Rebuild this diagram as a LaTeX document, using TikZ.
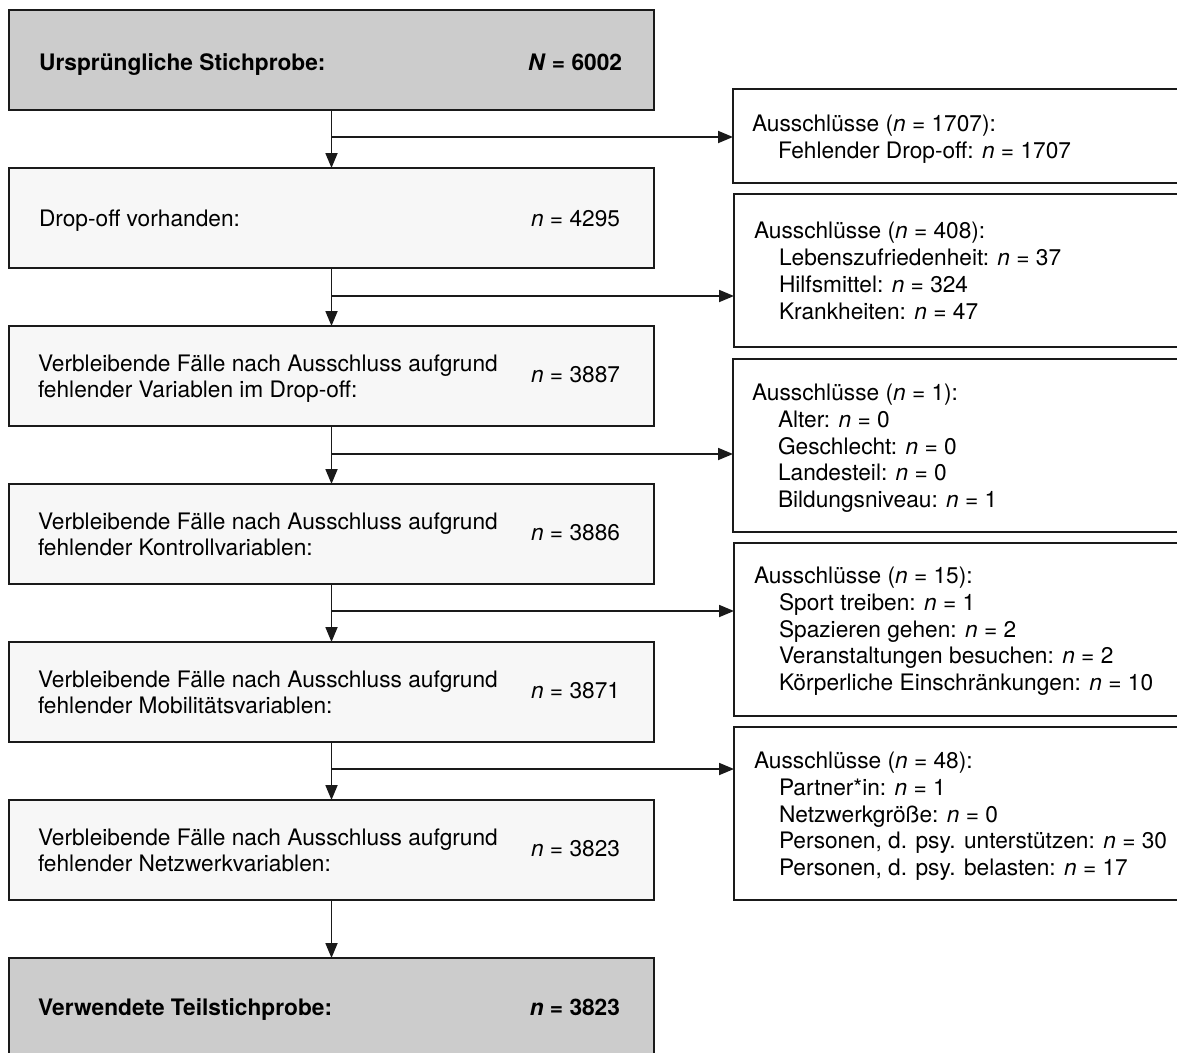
\documentclass[tikz,border=0pt]{standalone}
\usepackage{fontspec}
\setmainfont{TeX Gyre Heros}
\usetikzlibrary{arrows.meta}
\definecolor{boxgray}{HTML}{CCCCCC}
\definecolor{boxlight}{HTML}{F7F7F7}
\definecolor{lineblack}{HTML}{1A1A1A}
\begin{document}
\begin{tikzpicture}[x=1pt,y=-1pt,
  every node/.style={font=\fontsize{22.7}{27}\selectfont, inner sep=0pt, outer sep=0pt, text=black},
  mainbox/.style={draw=lineblack, line width=1.8pt, fill=boxlight, minimum width=645pt, minimum height=100pt, anchor=north west},
  endbox/.style={mainbox, fill=boxgray},
  sidebox/.style={draw=lineblack, line width=1.8pt, fill=white, minimum width=460pt, anchor=north west},
  txt/.style={anchor=base west},
  num/.style={anchor=base east},
  arr/.style={draw=lineblack, line width=1.8pt, -{Triangle[length=15pt,width=12pt]}},
]
\useasboundingbox (0,0) rectangle (1177,1052);
\clip (0,0) rectangle (1177,1052);

% main column boxes
\node[endbox]  (b1) at (9,10) {};
\node[mainbox] (b2) at (9,168) {};
\node[mainbox] (b3) at (9,326) {};
\node[mainbox] (b4) at (9,484) {};
\node[mainbox] (b5) at (9,642) {};
\node[mainbox] (b6) at (9,800) {};
\node[endbox, minimum height=120pt] (b7) at (9,958) {};

% main column texts
\node[txt] (t1) at (39,70) {\textbf{Ursprüngliche Stichprobe:}};
\node[num] (n1) at (622,70) {\textbf{\textit{N} = 6002}};
\node[txt] (t2) at (39,226) {Drop-off vorhanden:};
\node[num] (n2) at (620,226) {\textit{n} = 4295};
\node[txt] (t3a) at (38,371) {Verbleibende Fälle nach Ausschluss aufgrund};
\node[txt] (t3b) at (38,397) {fehlender Variablen im Drop-off:};
\node[num] (n3) at (620,382) {\textit{n} = 3887};
\node[txt] (t4a) at (38,529) {Verbleibende Fälle nach Ausschluss aufgrund};
\node[txt] (t4b) at (38,555) {fehlender Kontrollvariablen:};
\node[num] (n4) at (620,540) {\textit{n} = 3886};
\node[txt] (t5a) at (38,687) {Verbleibende Fälle nach Ausschluss aufgrund};
\node[txt] (t5b) at (38,713) {fehlender Mobilitätsvariablen:};
\node[num] (n5) at (620,698) {\textit{n} = 3871};
\node[txt] (t6a) at (38,845) {Verbleibende Fälle nach Ausschluss aufgrund};
\node[txt] (t6b) at (38,871) {fehlender Netzwerkvariablen:};
\node[num] (n6) at (620,856) {\textit{n} = 3823};
\node[txt] (t7) at (38,1015) {\textbf{Verwendete Teilstichprobe:}};
\node[num] (n7) at (620,1015) {\textbf{\textit{n} = 3823}};

% side boxes
\node[sidebox, minimum height=94pt]  (a1) at (733,89) {};
\node[sidebox, minimum height=153pt] (a2) at (734,194) {};
\node[sidebox, minimum height=173pt] (a3) at (733,359) {};
\node[sidebox, minimum height=173pt] (a4) at (734,543) {};
\node[sidebox, minimum height=173pt] (a5) at (734,727) {};

% side texts
\node[txt] (s1h) at (752,131) {Ausschlüsse (\textit{n} = 1707):};
\node[txt] (s1a) at (778,158) {Fehlender Drop-off: \textit{n} = 1707};

\node[txt] (s2h) at (754,238) {Ausschlüsse (\textit{n} = 408):};
\node[txt] (s2a) at (779,265) {Lebenszufriedenheit: \textit{n} = 37};
\node[txt] (s2b) at (779,292) {Hilfsmittel: \textit{n} = 324};
\node[txt] (s2c) at (779,319) {Krankheiten: \textit{n} = 47};

\node[txt] (s3h) at (752,400) {Ausschlüsse (\textit{n} = 1):};
\node[txt] (s3a) at (778,427) {Alter: \textit{n} = 0};
\node[txt] (s3b) at (778,454) {Geschlecht: \textit{n} = 0};
\node[txt] (s3c) at (778,480) {Landesteil: \textit{n} = 0};
\node[txt] (s3d) at (778,507) {Bildungsniveau: \textit{n} = 1};

\node[txt] (s4h) at (754,583) {Ausschlüsse (\textit{n} = 15):};
\node[txt] (s4a) at (779,610) {Sport treiben: \textit{n} = 1};
\node[txt] (s4b) at (779,637) {Spazieren gehen: \textit{n} = 2};
\node[txt] (s4c) at (779,663) {Veranstaltungen besuchen: \textit{n} = 2};
\node[txt] (s4d) at (779,690) {Körperliche Einschränkungen: \textit{n} = 10};

\node[txt] (s5h) at (754,768) {Ausschlüsse (\textit{n} = 48):};
\node[txt] (s5a) at (779,795) {Partner*in: \textit{n} = 1};
\node[txt] (s5b) at (779,822) {Netzwerkgröße: \textit{n} = 0};
\node[txt] (s5c) at (779,848) {Personen, d. psy. unterstützen: \textit{n} = 30};
\node[txt] (s5d) at (779,875) {Personen, d. psy. belasten: \textit{n} = 17};

% vertical connectors
\draw[arr] (b1.south) -- (b2.north);
\draw[arr] (b2.south) -- (b3.north);
\draw[arr] (b3.south) -- (b4.north);
\draw[arr] (b4.south) -- (b5.north);
\draw[arr] (b5.south) -- (b6.north);
\draw[arr] (b6.south) -- (b7.north);

% branch connectors
\coordinate (j1) at (331.5,137);
\coordinate (j2) at (331.5,296);
\coordinate (j3) at (331.5,454);
\coordinate (j4) at (331.5,611);
\coordinate (j5) at (331.5,769);
\draw[arr] (j1) -- (j1 -| a1.west);
\draw[arr] (j2) -- (j2 -| a2.west);
\draw[arr] (j3) -- (j3 -| a3.west);
\draw[arr] (j4) -- (j4 -| a4.west);
\draw[arr] (j5) -- (j5 -| a5.west);
\end{tikzpicture}
\end{document}
